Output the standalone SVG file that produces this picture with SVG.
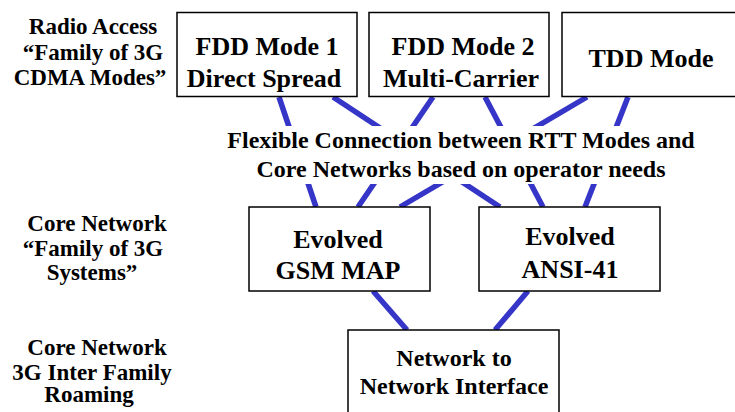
<svg xmlns="http://www.w3.org/2000/svg" width="735" height="412" viewBox="0 0 735 412">
  <style>
    .box { fill: #ffffff; stroke: #000000; stroke-width: 1.5; }
    .link { stroke: #3535c8; stroke-width: 5.5; fill: none; }
    text { font-family: "Liberation Serif", "Times New Roman", serif; font-weight: 700; fill: #000000; text-anchor: middle; }
    .node { font-size: 26px; }
    .mid { font-size: 24px; }
    .side { font-size: 23px; }
  </style>
  <rect width="735" height="412" fill="#ffffff"/>

  <!-- connectors: radio modes to core networks, core networks to NNI -->
  <g id="connectors">
    <line class="link" x1="279" y1="97" x2="316" y2="207"/>
    <line class="link" x1="333" y1="97" x2="500" y2="207"/>
    <line class="link" x1="433" y1="97" x2="358" y2="207"/>
    <line class="link" x1="485" y1="97" x2="543" y2="207"/>
    <line class="link" x1="587" y1="97" x2="400" y2="207"/>
    <line class="link" x1="628" y1="97" x2="585" y2="207"/>
    <line class="link" x1="373" y1="291" x2="407" y2="330"/>
    <line class="link" x1="528" y1="291" x2="495" y2="330"/>
  </g>

  <!-- caption over the crossing links -->
  <g id="flex-label">
    <rect x="222" y="126" width="476" height="58" fill="#ffffff"/>
    <text class="mid" x="461" y="148">Flexible Connection between RTT Modes and</text>
    <text class="mid" x="461" y="176.5">Core Networks based on operator needs</text>
  </g>

  <!-- side labels -->
  <g id="label-radio">
    <text class="side" x="93" y="34">Radio Access</text>
    <text class="side" x="93" y="60">“Family of 3G</text>
    <text class="side" x="90" y="85">CDMA Modes”</text>
  </g>
  <g id="label-core">
    <text class="side" x="97" y="231">Core Network</text>
    <text class="side" x="93" y="256">“Family of 3G</text>
    <text class="side" x="92" y="280">Systems”</text>
  </g>
  <g id="label-roaming">
    <text class="side" x="97" y="355">Core Network</text>
    <text class="side" x="92" y="379.5">3G Inter Family</text>
    <text class="side" x="89" y="402">Roaming</text>
  </g>

  <!-- radio access modes -->
  <g id="fdd1">
    <rect class="box" x="177" y="12.5" width="180" height="84"/>
    <text class="node" x="267" y="55">FDD Mode 1</text>
    <text class="node" x="264" y="86.5">Direct Spread</text>
  </g>
  <g id="fdd2">
    <rect class="box" x="369" y="12.5" width="180" height="84"/>
    <text class="node" x="463" y="55">FDD Mode 2</text>
    <text class="node" x="461" y="86.5">Multi-Carrier</text>
  </g>
  <g id="tdd">
    <rect class="box" x="562" y="12.5" width="180" height="84"/>
    <text class="node" x="651" y="66.5">TDD Mode</text>
  </g>

  <!-- core networks -->
  <g id="gsm-map">
    <rect class="box" x="249" y="207" width="181" height="84"/>
    <text class="node" x="338" y="247.5">Evolved</text>
    <text class="node" x="338" y="278.5">GSM MAP</text>
  </g>
  <g id="ansi-41">
    <rect class="box" x="479" y="207" width="181" height="84"/>
    <text class="node" x="570" y="245">Evolved</text>
    <text class="node" x="570" y="277.5">ANSI-41</text>
  </g>

  <!-- inter-family roaming -->
  <g id="nni">
    <rect class="box" x="348" y="330" width="211" height="90"/>
    <text class="mid" x="454" y="366">Network to</text>
    <text class="mid" x="454" y="393.5">Network Interface</text>
  </g>
</svg>
